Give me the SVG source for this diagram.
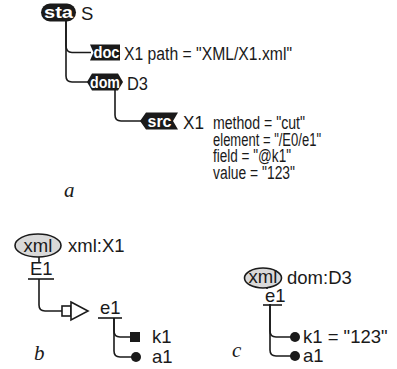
<svg xmlns="http://www.w3.org/2000/svg" width="397" height="369" viewBox="0 0 397 369">
<style>
.t{font-family:"Liberation Sans",Arial,sans-serif;font-size:18.5px;fill:#1a1a1a}
.s{font-family:"Liberation Sans",Arial,sans-serif;font-size:18px;fill:#1a1a1a}
.w{font-family:"Liberation Sans",Arial,sans-serif;font-size:16px;font-weight:bold;fill:#fff;text-anchor:middle}
.k{fill:#1a1a1a}
.c{fill:none;stroke:#1a1a1a;stroke-width:1.6}
.i{font-family:"Liberation Serif","Times New Roman",serif;font-style:italic;font-size:21px;fill:#1a1a1a}
.e{fill:#d9d9d9;stroke:#1a1a1a;stroke-width:1.6}
</style>
<rect width="397" height="369" fill="#fff"/>
<g id="connectors">
<path class="c" d="M66,21 V46 Q66,52.5 72,52.5 H91"/>
<path class="c" d="M66,21 V76 Q66,82 72,82 H88"/>
<path class="c" d="M115,90 V115 Q115,121 121,121 H141"/>
<path class="c" d="M39,257 V262"/>
<path class="c" d="M39,279 V305 Q39,311 45,311 H62"/>
<path class="c" d="M114,318 V331 Q114,337 120,337 H131"/>
<path class="c" d="M114,318 V351 Q114,357 120,357 H132"/>
<path class="c" d="M267,288 V289"/>
<path class="c" d="M270,304 V331 Q270,337 276,337 H291"/>
<path class="c" d="M270,304 V350 Q270,356 276,356 H291"/>
</g>
<g id="sta">
<rect class="k" x="41" y="3.5" width="35" height="18" rx="9"/>
<text class="w" x="58.5" y="18" textLength="29" lengthAdjust="spacingAndGlyphs">sta</text>
<text class="t" x="81" y="19.5">S</text>
</g>
<g id="doc">
<polygon class="k" points="90,44.5 120,44.5 120,60.5 90,60.5 93.5,52.5"/>
<text class="w" x="106.5" y="58" textLength="26" lengthAdjust="spacingAndGlyphs">doc</text>
<text class="s" x="124" y="59.5" textLength="168" lengthAdjust="spacingAndGlyphs">X1 path = "XML/X1.xml"</text>
</g>
<g id="dom">
<polygon class="k" points="87,82 92,73.5 118,73.5 123,82 118,90.5 92,90.5"/>
<text class="w" x="105" y="88" textLength="30" lengthAdjust="spacingAndGlyphs">dom</text>
<text class="s" x="127" y="89.5" textLength="21" lengthAdjust="spacingAndGlyphs">D3</text>
</g>
<g id="src">
<polygon class="k" points="140,121 146,112.5 178,112.5 173,121 178,129.5 146,129.5"/>
<text class="w" x="159.5" y="127" textLength="24" lengthAdjust="spacingAndGlyphs">src</text>
<text class="s" x="183" y="129" textLength="21" lengthAdjust="spacingAndGlyphs">X1</text>
<text class="s" x="213" y="129" textLength="92" lengthAdjust="spacingAndGlyphs">method = "cut"</text>
<text class="s" x="213" y="145.5" textLength="108" lengthAdjust="spacingAndGlyphs">element = "/E0/e1"</text>
<text class="s" x="213" y="162" textLength="78" lengthAdjust="spacingAndGlyphs">field = "@k1"</text>
<text class="s" x="213" y="178.5" textLength="82" lengthAdjust="spacingAndGlyphs">value = "123"</text>
</g>
<text class="i" x="64" y="197">a</text>
<g id="xml-b">
<ellipse class="e" cx="38" cy="245.5" rx="23" ry="11.5"/>
<text class="t" x="38" y="251.5" text-anchor="middle">xml</text>
<text class="t" x="68" y="252">xml:X1</text>
</g>
<g id="E1">
<text class="t" x="30" y="275">E1</text>
<line class="c" x1="28" y1="279" x2="54" y2="279"/>
</g>
<g id="map">
<rect x="62" y="306" width="9" height="10" fill="#fff" stroke="#1a1a1a" stroke-width="1.6"/>
<polygon points="71,302 88,311 71,320" fill="#fff" stroke="#1a1a1a" stroke-width="1.6"/>
</g>
<g id="e1-b">
<text class="t" x="100" y="314">e1</text>
<line class="c" x1="98" y1="318" x2="122" y2="318"/>
</g>
<g id="k1-b">
<rect class="k" x="130" y="332" width="10" height="10"/>
<text class="t" x="152" y="343">k1</text>
</g>
<g id="a1-b">
<circle class="k" cx="136" cy="357" r="5"/>
<text class="t" x="152" y="363">a1</text>
</g>
<text class="i" x="34" y="360">b</text>
<g id="xml-c">
<ellipse class="e" cx="263" cy="278" rx="18.5" ry="10"/>
<text class="t" x="263" y="283" text-anchor="middle" font-size="17">xml</text>
<text class="t" x="287" y="284">dom:D3</text>
</g>
<g id="e1-c">
<text class="t" x="265" y="302">e1</text>
<line class="c" x1="263" y1="305" x2="282" y2="305"/>
</g>
<g id="k1-c">
<circle class="k" cx="295" cy="337" r="5"/>
<text class="t" x="303" y="343">k1 = "123"</text>
</g>
<g id="a1-c">
<circle class="k" cx="295" cy="356" r="5"/>
<text class="t" x="303" y="362">a1</text>
</g>
<text class="i" x="232" y="357">c</text>
</svg>
